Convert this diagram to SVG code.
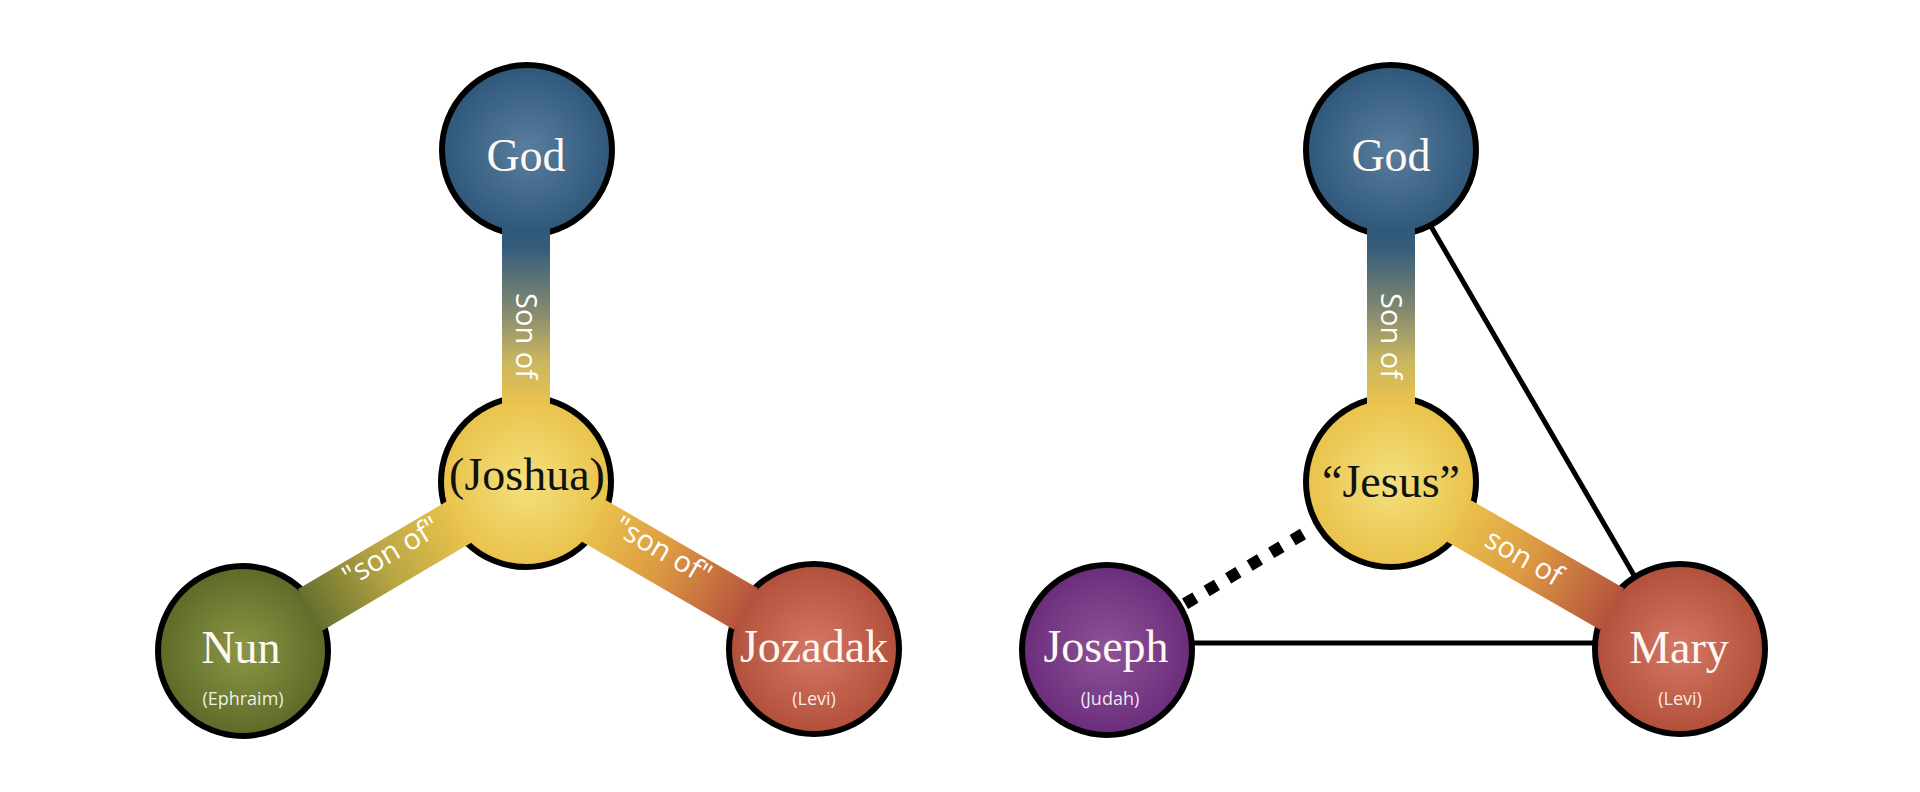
<svg xmlns="http://www.w3.org/2000/svg" width="1920" height="792" viewBox="0 0 1920 792">
<defs>
<radialGradient id="gBlue"><stop offset="0" stop-color="#5a7e9e"/><stop offset="0.7" stop-color="#3b6385"/><stop offset="1" stop-color="#2f577a"/></radialGradient>
<radialGradient id="gYellow"><stop offset="0" stop-color="#f4e07e"/><stop offset="1" stop-color="#e9c24a"/></radialGradient>
<radialGradient id="gOlive"><stop offset="0" stop-color="#8b9745"/><stop offset="1" stop-color="#5d6a28"/></radialGradient>
<radialGradient id="gRed"><stop offset="0" stop-color="#d57867"/><stop offset="0.6" stop-color="#c0604b"/><stop offset="1" stop-color="#b14f3b"/></radialGradient>
<radialGradient id="gPurple"><stop offset="0" stop-color="#8e5398"/><stop offset="1" stop-color="#6b2d7b"/></radialGradient>
<linearGradient id="vBar1" gradientUnits="userSpaceOnUse" x1="0" y1="228" x2="0" y2="404"><stop offset="0" stop-color="#30587a"/><stop offset="0.12" stop-color="#375d7b"/><stop offset="0.45" stop-color="#7f8770"/><stop offset="0.75" stop-color="#c9b55f"/><stop offset="1" stop-color="#e9c34e"/></linearGradient>
<linearGradient id="dNun" gradientUnits="userSpaceOnUse" x1="459" y1="522" x2="310" y2="610"><stop offset="0" stop-color="#e9c34c"/><stop offset="0.5" stop-color="#b8a543"/><stop offset="1" stop-color="#65702e"/></linearGradient>
<linearGradient id="dJoz" gradientUnits="userSpaceOnUse" x1="594" y1="521" x2="746" y2="609"><stop offset="0" stop-color="#eac14c"/><stop offset="0.45" stop-color="#dc9a42"/><stop offset="1" stop-color="#b6533e"/></linearGradient>
<linearGradient id="dMary" gradientUnits="userSpaceOnUse" x1="1459" y1="521" x2="1612" y2="609"><stop offset="0" stop-color="#eac14c"/><stop offset="0.45" stop-color="#dc9a42"/><stop offset="1" stop-color="#b6533e"/></linearGradient>
<style>
.node{stroke:#000;stroke-width:6}
.name{font-family:"Liberation Serif","Times New Roman",serif;font-size:46px;text-anchor:middle;fill:#fff8f2}
.dark{fill:#111}
.sub{font-family:"Open Sans","Liberation Sans",sans-serif;font-size:18px;text-anchor:middle;fill:#fff;fill-opacity:0.9}
.lbl{font-family:"Open Sans","Liberation Sans",sans-serif;font-weight:400;font-size:29px;text-anchor:middle;fill:#fff}
.bar{stroke-width:48;stroke-linecap:butt;fill:none}
.thin{stroke:#000;stroke-width:5;fill:none}
.dots{stroke:#000;stroke-width:12;stroke-dasharray:12 13;fill:none}
</style>
</defs>
<rect width="1920" height="792" fill="#fff"/>
<g id="node-god-left"><circle class="node" cx="527" cy="150" r="85" fill="url(#gBlue)"/><text class="name" x="526" y="171">God</text></g>
<g id="node-joshua"><circle class="node" cx="526" cy="482" r="85" fill="url(#gYellow)"/><text class="name dark" x="527" y="490">(Joshua)</text></g>
<g id="node-nun"><circle class="node" cx="243" cy="651" r="85" fill="url(#gOlive)"/><text class="name" x="241" y="663">Nun</text><text class="sub" x="243" y="705">(Ephraim)</text></g>
<g id="node-jozadak"><circle class="node" cx="814" cy="649" r="85" fill="url(#gRed)"/><text class="name" x="814" y="662">Jozadak</text><text class="sub" x="814" y="705">(Levi)</text></g>
<g id="node-god-right"><circle class="node" cx="1391" cy="150" r="85" fill="url(#gBlue)"/><text class="name" x="1391" y="171">God</text></g>
<g id="node-jesus"><circle class="node" cx="1391" cy="482" r="85" fill="url(#gYellow)"/><text class="name dark" x="1391" y="497">“Jesus”</text></g>
<g id="node-joseph"><circle class="node" cx="1107" cy="650" r="85" fill="url(#gPurple)"/><text class="name" x="1106" y="662">Joseph</text><text class="sub" x="1110" y="705">(Judah)</text></g>
<g id="node-mary"><circle class="node" cx="1680" cy="649" r="85" fill="url(#gRed)"/><text class="name" x="1679" y="663">Mary</text><text class="sub" x="1680" y="705">(Levi)</text></g>
<g id="connectors">
<rect x="502" y="228" width="48" height="176" fill="url(#vBar1)"/>
<line class="bar" x1="459" y1="522" x2="310" y2="610" stroke="url(#dNun)"/>
<line class="bar" x1="594" y1="521" x2="746" y2="609" stroke="url(#dJoz)"/>
<rect x="1367" y="228" width="48" height="176" fill="url(#vBar1)"/>
<line class="bar" x1="1459" y1="521" x2="1612" y2="609" stroke="url(#dMary)"/>
<line class="thin" x1="1429" y1="223" x2="1635" y2="577"/>
<line class="thin" x1="1192" y1="643" x2="1595" y2="643"/>
<line class="dots" x1="1303" y1="534" x2="1183" y2="605"/>
<text class="lbl" transform="translate(526,336) rotate(90)" y="10">Son of</text>
<text class="lbl" transform="translate(1391,336) rotate(90)" y="10">Son of</text>
<text class="lbl" transform="translate(392,553) rotate(-30.7)" y="8">"son of"</text>
<text class="lbl" transform="translate(662,552) rotate(30)" y="8">"son of"</text>
<text class="lbl" transform="translate(1523,559) rotate(29.9)" y="8">son of</text>
</g>
</svg>
